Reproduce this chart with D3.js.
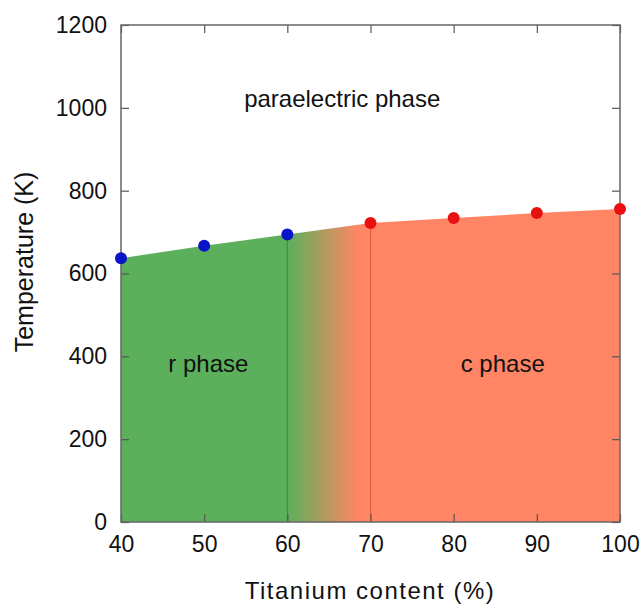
<!DOCTYPE html>
<html>
<head>
<meta charset="utf-8">
<script src="https://cdn.jsdelivr.net/npm/d3@7"></script>
<style>
    body { margin: 0; background: #fff; }
    svg { display: block; font-family: "Liberation Sans", Arial, sans-serif; }
    .axis path { display: none; }
    .axis line { stroke: #555; stroke-width: 1.2; }
    .axis text { fill: #111; font-size: 23px; }
</style>
</head>
<body>
<div id="chart"></div>
<script>
// Ti content (%) and transition temperatures (K)
var xTicks = [40, 50, 60, 70, 80, 90, 100];
var yTicks = [0, 200, 400, 600, 800, 1000, 1200];
var rPhaseTi = [40, 50, 60];
var rPhaseTemp = [637, 667, 694];
var cPhaseTi = [70, 80, 90, 100];
var cPhaseTemp = [722, 734, 746, 756];
var regionLabels = [
    {text: 'paraelectric phase', ti: 66.6, temp: 1002},
    {text: 'r phase', ti: 50.5, temp: 362},
    {text: 'c phase', ti: 85.9, temp: 362}
];

var width = 643;
var height = 607;
// plot box edges (note: "top" is a reserved window property, so use plot*)
var plotLeft = 121, plotRight = 620, plotTop = 25, plotBottom = 522;

var svg = d3.select('#chart').append('svg')
    .attr('width', width)
    .attr('height', height);

var x = d3.scaleLinear().domain([40, 100]).range([plotLeft, plotRight]);
var y = d3.scaleLinear().domain([0, 1200]).range([plotBottom, plotTop]);

var points = rPhaseTi.map(function (d, i) { return {ti: d, temp: rPhaseTemp[i], phase: 'r'}; })
    .concat(cPhaseTi.map(function (d, i) { return {ti: d, temp: cPhaseTemp[i], phase: 'c'}; }));

// green -> salmon blend between the two phases
var green = '#5cb05b', salmon = '#ff8565';
var grad = svg.append('defs').append('linearGradient')
    .attr('id', 'phaseFill')
    .attr('gradientUnits', 'userSpaceOnUse')
    .attr('x1', x(40)).attr('x2', x(100))
    .attr('y1', 0).attr('y2', 0);
var span = x(100) - x(40);
grad.append('stop').attr('offset', 0).attr('stop-color', green);
grad.append('stop').attr('offset', (x(60) - x(40)) / span).attr('stop-color', green);
grad.append('stop').attr('offset', (x(68.5) - x(40)) / span).attr('stop-color', salmon);
grad.append('stop').attr('offset', 1).attr('stop-color', salmon);

var area = d3.area()
    .x(function (d) { return x(d.ti); })
    .y0(y(0))
    .y1(function (d) { return y(d.temp); });

svg.append('path')
    .datum(points)
    .attr('d', area)
    .attr('fill', 'url(#phaseFill)');

// boundary lines at the end of r phase and start of c phase
svg.append('line')
    .attr('x1', x(60)).attr('x2', x(60))
    .attr('y1', y(0)).attr('y2', y(rPhaseTemp[2]))
    .attr('stroke', '#3f8a3e').attr('stroke-width', 1);
svg.append('line')
    .attr('x1', x(70)).attr('x2', x(70))
    .attr('y1', y(0)).attr('y2', y(cPhaseTemp[0]))
    .attr('stroke', '#d9553c').attr('stroke-width', 1);

// axes, ticks pointing inward on all four sides
svg.append('g').attr('class', 'axis')
    .attr('transform', 'translate(0,' + plotBottom + ')')
    .call(d3.axisBottom(x).tickValues(xTicks).tickSizeInner(-8).tickSizeOuter(0).tickPadding(14));
svg.append('g').attr('class', 'axis')
    .attr('transform', 'translate(0,' + plotTop + ')')
    .call(d3.axisTop(x).tickValues(xTicks).tickSizeInner(-8).tickSizeOuter(0).tickFormat(''));
svg.append('g').attr('class', 'axis')
    .attr('transform', 'translate(' + plotLeft + ',0)')
    .call(d3.axisLeft(y).tickValues(yTicks).tickSizeInner(-8).tickSizeOuter(0).tickPadding(14)
        .tickFormat(d3.format('d')));
svg.append('g').attr('class', 'axis')
    .attr('transform', 'translate(' + plotRight + ',0)')
    .call(d3.axisRight(y).tickValues(yTicks).tickSizeInner(-8).tickSizeOuter(0).tickFormat(''));

svg.append('rect')
    .attr('x', plotLeft).attr('y', plotTop)
    .attr('width', plotRight - plotLeft).attr('height', plotBottom - plotTop)
    .attr('fill', 'none')
    .attr('stroke', '#666')
    .attr('stroke-width', 1.5);

svg.selectAll('circle.pt')
    .data(points)
    .enter().append('circle')
    .attr('class', 'pt')
    .attr('cx', function (d) { return x(d.ti); })
    .attr('cy', function (d) { return y(d.temp); })
    .attr('r', 6)
    .attr('fill', function (d) { return d.phase === 'r' ? '#0a14c8' : '#e81010'; });

svg.selectAll('text.region')
    .data(regionLabels)
    .enter().append('text')
    .attr('class', 'region')
    .attr('x', function (d) { return x(d.ti); })
    .attr('y', function (d) { return y(d.temp); })
    .attr('text-anchor', 'middle')
    .attr('font-size', 24)
    .attr('fill', '#111')
    .text(function (d) { return d.text; });

svg.append('text')
    .attr('x', 370)
    .attr('y', 599)
    .attr('text-anchor', 'middle')
    .attr('font-size', 24)
    .attr('letter-spacing', 1.5)
    .attr('fill', '#111')
    .text('Titanium content (%)');

svg.append('text')
    .attr('transform', 'translate(33,262) rotate(-90)')
    .attr('text-anchor', 'middle')
    .attr('font-size', 25)
    .attr('fill', '#111')
    .text('Temperature (K)');
</script>
</body>
</html>
